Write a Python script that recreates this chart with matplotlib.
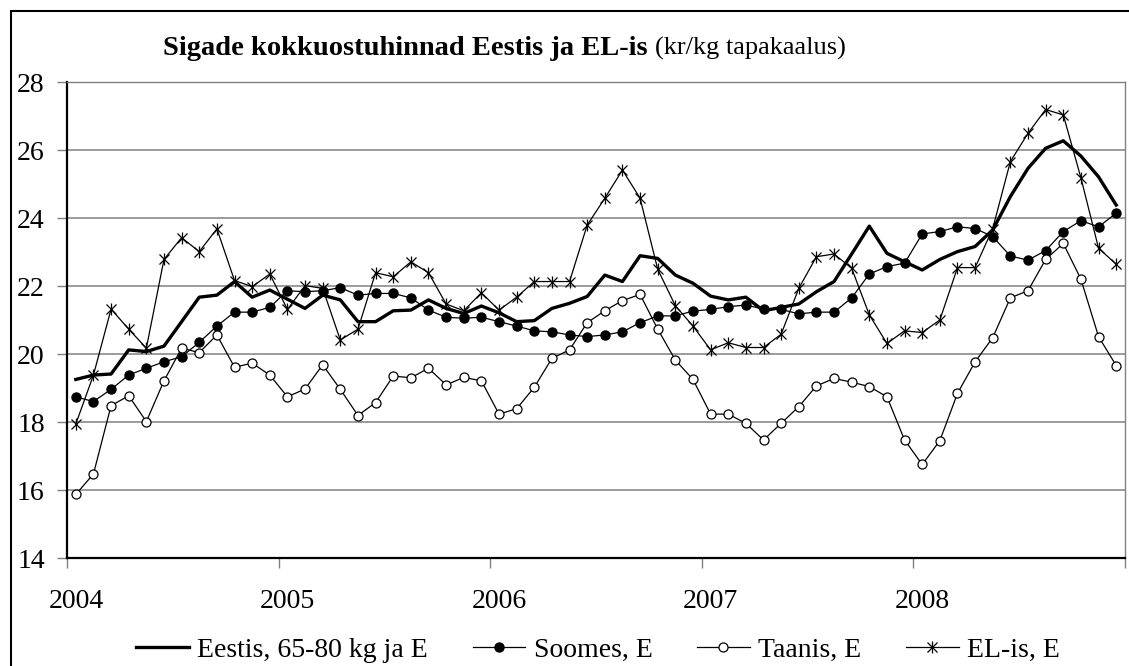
import numpy as np
import matplotlib
matplotlib.use("Agg")
import matplotlib.pyplot as plt
from matplotlib.patches import Rectangle
from matplotlib.legend_handler import HandlerTuple

plt.rcParams['font.family'] = 'Liberation Serif'

# kuised hinnad 2004-2008 (kr/kg tapakaalus)
years = ['2004', '2005', '2006', '2007', '2008']
eestis = [19.26, 19.39, 19.42, 20.13, 20.08, 20.24, 20.96, 21.68, 21.74, 22.14, 21.68, 21.89,
          21.62, 21.35, 21.74, 21.60, 20.96, 20.96, 21.28, 21.30, 21.60, 21.35, 21.20, 21.42,
          21.22, 20.96, 20.99, 21.35, 21.50, 21.70, 22.33, 22.14, 22.90, 22.82, 22.33, 22.09,
          21.71, 21.60, 21.68, 21.28, 21.38, 21.48, 21.84, 22.14, 22.95, 23.77, 22.97, 22.72,
          22.48, 22.79, 23.02, 23.17, 23.66, 24.64, 25.47, 26.06, 26.28, 25.83, 25.22, 24.39]
soomes = [18.75, 18.61, 18.97, 19.39, 19.59, 19.78, 19.93, 20.35, 20.83, 21.24, 21.24, 21.38,
          21.87, 21.84, 21.87, 21.96, 21.74, 21.79, 21.79, 21.66, 21.30, 21.09, 21.06, 21.09,
          20.96, 20.83, 20.69, 20.66, 20.57, 20.52, 20.57, 20.66, 20.93, 21.13, 21.13, 21.27,
          21.32, 21.40, 21.45, 21.33, 21.32, 21.19, 21.24, 21.24, 21.66, 22.36, 22.58, 22.68,
          23.54, 23.61, 23.75, 23.70, 23.46, 22.89, 22.77, 23.05, 23.61, 23.93, 23.75, 24.15]
taanis = [15.88, 16.48, 18.49, 18.78, 18.02, 19.22, 20.18, 20.05, 20.57, 19.62, 19.74, 19.39,
          18.75, 18.98, 19.69, 18.97, 18.20, 18.58, 19.36, 19.31, 19.59, 19.10, 19.32, 19.22,
          18.24, 18.40, 19.03, 19.88, 20.13, 20.93, 21.28, 21.58, 21.76, 20.74, 19.83, 19.26,
          18.24, 18.24, 17.97, 17.48, 17.97, 18.46, 19.07, 19.29, 19.18, 19.05, 18.75, 17.48,
          16.76, 17.46, 18.85, 19.78, 20.49, 21.66, 21.87, 22.79, 23.26, 22.21, 20.52, 19.67]
elis = [17.95, 19.39, 21.33, 20.74, 20.18, 22.79, 23.43, 23.02, 23.69, 22.17, 21.99, 22.36,
        21.32, 22.02, 21.94, 20.42, 20.74, 22.40, 22.28, 22.72, 22.40, 21.48, 21.28, 21.81,
        21.30, 21.68, 22.14, 22.14, 22.14, 23.80, 24.59, 25.42, 24.59, 22.50, 21.43, 20.83,
        20.13, 20.34, 20.20, 20.20, 20.59, 21.94, 22.87, 22.95, 22.53, 21.16, 20.32, 20.69,
        20.64, 21.01, 22.55, 22.55, 23.70, 25.67, 26.50, 27.20, 27.04, 25.19, 23.12, 22.65]
labels = ['Eestis, 65-80 kg ja E', 'Soomes, E', 'Taanis, E', 'EL-is, E']

W, H = 1129, 666
fig = plt.figure(figsize=(W / 100, H / 100), dpi=100)
ax = fig.add_axes([67 / W, 1 - 558.3 / H, (1125 - 67) / W, (558.3 - 82.3) / H])

x = np.arange(len(eestis)) + 0.5

l1, = ax.plot(x, eestis, color='black', lw=2.4, zorder=3)
l2, = ax.plot(x, soomes, color='black', lw=0.9, marker='o', ms=6.5,
              mfc='black', mec='black', zorder=4)
l3, = ax.plot(x, taanis, color='black', lw=0.9, marker='o', ms=6.5,
              mfc='white', mec='black', mew=0.9, zorder=4)
l4, = ax.plot(x, elis, color='black', lw=0.9, marker='x', ms=7.5, mew=0.9, zorder=4)
l4b, = ax.plot(x, elis, ls='none', marker='|', ms=8.5, mew=0.9, color='black', zorder=4)

ax.set_xlim(0, 60)
ax.set_ylim(14, 28)
ax.set_yticks(np.arange(14, 29, 2))
ax.yaxis.grid(True, color='#808080', lw=1.1)
ax.set_axisbelow(True)

ax.set_xticks(np.arange(0, 61, 12))
ax.set_xticklabels([])
ax.set_xticks(np.arange(len(years)) * 12 + 0.5, minor=True)
ax.set_xticklabels(years, minor=True)
ax.tick_params(axis='x', which='major', length=7, color='#808080', width=1)
ax.tick_params(axis='x', which='minor', length=0, pad=22, labelsize=20)
ax.tick_params(axis='y', length=7, color='#808080', width=1, pad=9, labelsize=20)

for s in ['top', 'right']:
    ax.spines[s].set_color('#808080')
    ax.spines[s].set_linewidth(1)
ax.spines['left'].set_linewidth(1.6)
ax.spines['bottom'].set_linewidth(1.6)

# pealkiri: rasvane osa + tavaline osa
fig.text(648 / W, 1 - 55 / H, 'Sigade kokkuostuhinnad Eestis ja EL-is',
         ha='right', va='baseline', fontsize=20.5, fontweight='bold')
fig.text(655 / W, 1 - 55 / H, '(kr/kg tapakaalus)',
         ha='left', va='baseline', fontsize=19)

fig.legend([l1, l2, l3, (l4, l4b)], labels, loc='center', ncol=4,
           bbox_to_anchor=(598 / W, 1 - 650 / H), frameon=False, fontsize=20,
           handlelength=1.9, handletextpad=0.3, columnspacing=1.6,
           handler_map={tuple: HandlerTuple(ndivide=1)})

fig.patches.append(Rectangle((11 / W, -0.1), 1.2, 1 - 11 / H + 0.1,
                             transform=fig.transFigure, fill=False,
                             edgecolor='black', lw=1.5))

fig.savefig('out.png', dpi=100)
